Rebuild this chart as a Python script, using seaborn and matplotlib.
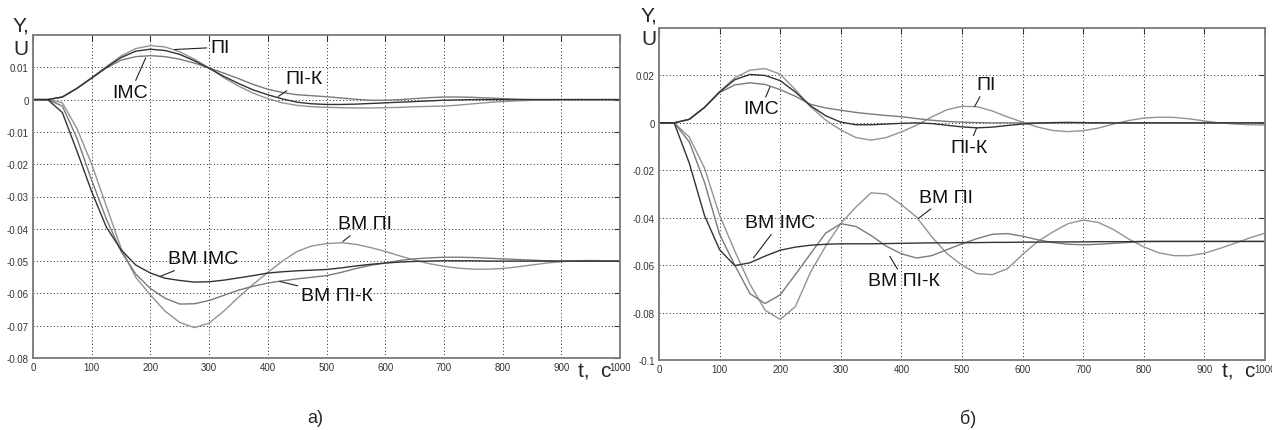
import pandas as pd
import seaborn as sns
import matplotlib.pyplot as plt

# time grid, s
t = [0, 25, 50, 75, 100, 125, 150, 175, 200, 225, 250, 275, 300, 325, 350, 375, 400,
     425, 450, 475, 500, 525, 550, 575, 600, 625, 650, 675, 700, 725, 750, 775, 800,
     825, 850, 875, 900, 925, 950, 975, 1000]

# panel a) control signals U
a_u_pi = [0, 0, 0.0008, 0.0035, 0.0068, 0.0102, 0.0135, 0.0158, 0.0167, 0.0163, 0.0148,
          0.0125, 0.0098, 0.0068, 0.0042, 0.0020, 0.0003, -0.0010, -0.0018, -0.0022,
          -0.0024, -0.0025, -0.0026, -0.0026, -0.0025, -0.0024, -0.0022, -0.0021, -0.0020,
          -0.0017, -0.0013, -0.0009, -0.0006, -0.0004, -0.0002, -0.0001, 0, 0, 0, 0, 0]
a_u_pik = [0, 0, 0.0008, 0.0035, 0.0067, 0.0100, 0.0130, 0.0150, 0.0156, 0.0152, 0.0140,
           0.0120, 0.0097, 0.0072, 0.0050, 0.0030, 0.0015, 0.0002, -0.0008, -0.0013,
           -0.0015, -0.0015, -0.0014, -0.0012, -0.0010, -0.0008, -0.0006, -0.0004, -0.0002,
           -0.0001, 0, 0, 0, 0, 0, 0, 0, 0, 0, 0, 0]
a_u_imc = [0, 0, 0.0008, 0.0035, 0.0066, 0.0098, 0.0122, 0.0133, 0.0136, 0.0133, 0.0125,
           0.0113, 0.0098, 0.0082, 0.0065, 0.0047, 0.0032, 0.0022, 0.0015, 0.0012, 0.0009,
           0.0005, 0.0001, -0.0002, -0.0002, 0.0000, 0.0003, 0.0006, 0.0008, 0.0008, 0.0007,
           0.0005, 0.0003, 0.0001, 0, 0, 0, 0, 0, 0, 0]

# panel a) outputs Y (BM)
a_y_pi = [0, 0, -0.001, -0.009, -0.020, -0.033, -0.046, -0.055, -0.0605, -0.0655, -0.0690,
          -0.0706, -0.0692, -0.0655, -0.0612, -0.0572, -0.0535, -0.0500, -0.0470, -0.0453,
          -0.0446, -0.0443, -0.0448, -0.0458, -0.0470, -0.0484, -0.0497, -0.0508, -0.0516,
          -0.0522, -0.0525, -0.0525, -0.0523, -0.0518, -0.0512, -0.0506, -0.0502, -0.0499,
          -0.0498, -0.0499, -0.0500]
a_y_pik = [0, 0, -0.002, -0.012, -0.025, -0.037, -0.047, -0.054, -0.0585, -0.0615, -0.0633,
           -0.0632, -0.0622, -0.0606, -0.0590, -0.0578, -0.0568, -0.0561, -0.0555, -0.0550,
           -0.0545, -0.0535, -0.0523, -0.0513, -0.0506, -0.0498, -0.0493, -0.0490, -0.0488,
           -0.0488, -0.0489, -0.0491, -0.0493, -0.0495, -0.0497, -0.0499, -0.0500, -0.0500,
           -0.0500, -0.0500, -0.0500]
a_y_imc = [0, 0, -0.004, -0.016, -0.0285, -0.0395, -0.0465, -0.0512, -0.0537, -0.0553,
           -0.0560, -0.0565, -0.0564, -0.0559, -0.0552, -0.0545, -0.0537, -0.0533, -0.0530,
           -0.0528, -0.0526, -0.0521, -0.0515, -0.0510, -0.0506, -0.0503, -0.0501, -0.0500,
           -0.0499, -0.0499, -0.0499, -0.0500, -0.0500, -0.0500, -0.0500, -0.0500, -0.0500,
           -0.0500, -0.0500, -0.0500, -0.0500]

# panel б) control signals U
b_u_pi = [0, 0, 0.0015, 0.0065, 0.0132, 0.0190, 0.0222, 0.0229, 0.0205, 0.0140, 0.0068,
          0.0012, -0.0030, -0.0062, -0.0073, -0.0062, -0.0038, -0.0010, 0.0025, 0.0055,
          0.0070, 0.0068, 0.0050, 0.0025, 0.0003, -0.0018, -0.0032, -0.0037, -0.0033,
          -0.0022, -0.0005, 0.0010, 0.0020, 0.0024, 0.0023, 0.0017, 0.0008, 0.0000,
          -0.0005, -0.0008, -0.0009]
b_u_pik = [0, 0, 0.0015, 0.0065, 0.0130, 0.0182, 0.0204, 0.0200, 0.0178, 0.0130, 0.0072,
           0.0030, 0.0003, -0.0008, -0.0008, -0.0005, -0.0002, 0.0000, -0.0003, -0.0010,
           -0.0017, -0.0021, -0.0018, -0.0011, -0.0005, -0.0001, 0.0001, 0.0002, 0.0001,
           0, 0, 0, 0, 0, 0, 0, 0, 0, 0, 0, 0]
b_u_imc = [0, 0, 0.0015, 0.0065, 0.0128, 0.0160, 0.0169, 0.0162, 0.0140, 0.0112, 0.0078,
           0.0063, 0.0053, 0.0044, 0.0037, 0.0031, 0.0026, 0.0018, 0.0011, 0.0006, 0.0003,
           0.0001, 0, 0, 0, 0, 0, 0, 0, 0, 0, 0, 0, 0, 0, 0, 0, 0, 0, 0, 0]

# panel б) outputs Y (BM)
b_y_pi = [0, 0, -0.006, -0.019, -0.039, -0.054, -0.068, -0.0790, -0.0829, -0.0775, -0.0630,
          -0.0520, -0.0424, -0.0355, -0.0295, -0.0300, -0.0345, -0.0397, -0.0480, -0.0551,
          -0.0600, -0.0636, -0.0640, -0.0615, -0.0555, -0.0500, -0.0460, -0.0425, -0.0410,
          -0.0420, -0.0450, -0.0490, -0.0523, -0.0548, -0.0560, -0.0560, -0.0550, -0.0530,
          -0.0508, -0.0485, -0.0465]
b_y_pik = [0, 0, -0.008, -0.025, -0.047, -0.060, -0.0720, -0.0762, -0.0725, -0.0640, -0.0552,
           -0.0465, -0.0425, -0.0437, -0.0475, -0.0520, -0.0552, -0.0570, -0.0560, -0.0535,
           -0.0510, -0.0488, -0.0470, -0.0467, -0.0478, -0.0493, -0.0505, -0.0512, -0.0514,
           -0.0512, -0.0508, -0.0504, -0.0501, -0.0500, -0.0500, -0.0500, -0.0500, -0.0500,
           -0.0500, -0.0500, -0.0500]
b_y_imc = [0, 0, -0.017, -0.039, -0.0535, -0.0602, -0.0590, -0.0562, -0.0537, -0.0524,
           -0.0516, -0.0512, -0.0510, -0.0510, -0.0510, -0.0509, -0.0508, -0.0507, -0.0506,
           -0.0506, -0.0505, -0.0505, -0.0504, -0.0504, -0.0503, -0.0503, -0.0502, -0.0502,
           -0.0502, -0.0501, -0.0501, -0.0501, -0.0500, -0.0500, -0.0500, -0.0500, -0.0500,
           -0.0500, -0.0500, -0.0500, -0.0500]

x_ticks = [0, 100, 200, 300, 400, 500, 600, 700, 800, 900, 1000]
a_yticks = [-0.08, -0.07, -0.06, -0.05, -0.04, -0.03, -0.02, -0.01, 0, 0.01]
a_ylabels = ['-0.08', '-0.07', '-0.06', '-0.05', '-0.04', '-0.03', '-0.02', '-0.01', '0', '0.01']
b_yticks = [-0.1, -0.08, -0.06, -0.04, -0.02, 0, 0.02]
b_ylabels = ['-0.1', '-0.08', '-0.06', '-0.04', '-0.02', '0', '0.02']

# curve labels: (text, text x, text y, pointer x, pointer y)
a_notes = [("ПІ", 318, 0.0162, 241, 0.0155),
           ("IMC", 166, 0.0023, 192, 0.0129),
           ("ПІ-К", 462, 0.0064, 418, 0.0010),
           ("ВМ IMC", 290, -0.0493, 216, -0.0548),
           ("ВМ ПІ-К", 518, -0.0606, 420, -0.0563),
           ("ВМ ПІ", 566, -0.0385, 528, -0.0439)]
b_notes = [("IMC", 168, 0.0059, 183, 0.0151),
           ("ПІ", 540, 0.0160, 521, 0.0069),
           ("ПІ-К", 511, -0.0104, 524, -0.0022),
           ("ВМ IMC", 200, -0.0421, 156, -0.0569),
           ("ВМ ПІ-К", 405, -0.0666, 381, -0.0563),
           ("ВМ ПІ", 474, -0.0313, 428, -0.0403)]

sns.set_style("white")
plt.rcParams['font.family'] = ['Liberation Sans', 'DejaVu Sans']

palette = {'U ПІ': '#939393', 'U IMC': '#7a7a7a', 'U ПІ-К': '#333333',
           'Y ПІ': '#939393', 'Y ПІ-К': '#7a7a7a', 'Y IMC': '#333333'}
order = ['U ПІ', 'U IMC', 'Y ПІ', 'Y ПІ-К', 'U ПІ-К', 'Y IMC']


def long_df(curves):
    frames = [pd.DataFrame({'t': t, 'v': vals, 'curve': name}) for name, vals in curves.items()]
    return pd.concat(frames, ignore_index=True)


def draw_panel(ax, df, ylim, yticks, ylabels, notes):
    sns.lineplot(data=df, x='t', y='v', hue='curve', hue_order=order, palette=palette,
                 linewidth=1.0, legend=False, ax=ax)
    ax.set_xlim(0, 1000)
    ax.set_ylim(*ylim)
    ax.set_xticks(x_ticks)
    ax.set_xticklabels([str(v) for v in x_ticks])
    ax.set_yticks(yticks)
    ax.set_yticklabels(ylabels)
    ax.set_xlabel("")
    ax.set_ylabel("")
    ax.grid(True, color='#222222', linestyle=(0, (1, 2.5)), linewidth=0.7)
    ax.tick_params(direction='in', length=4, width=0.8, top=True, right=True,
                   labelsize=7, labelcolor='#333333', color='#333333', pad=3)
    for sp in ax.spines.values():
        sp.set_color('#7a7a7a')
        sp.set_linewidth(1.3)
    for txt, tx, ty, px, py in notes:
        ax.annotate(txt, xy=(px, py), xytext=(tx, ty), ha='center', va='center',
                    fontsize=14, color='#111111',
                    arrowprops=dict(arrowstyle='-', color='#222222', lw=0.8,
                                    shrinkA=0, shrinkB=0))


df_a = long_df({'U ПІ': a_u_pi, 'U ПІ-К': a_u_pik, 'U IMC': a_u_imc,
                'Y ПІ': a_y_pi, 'Y ПІ-К': a_y_pik, 'Y IMC': a_y_imc})
df_b = long_df({'U ПІ': b_u_pi, 'U ПІ-К': b_u_pik, 'U IMC': b_u_imc,
                'Y ПІ': b_y_pi, 'Y ПІ-К': b_y_pik, 'Y IMC': b_y_imc})

fig = plt.figure(figsize=(12.72, 4.31), dpi=100)
ax_a = fig.add_axes([33 / 1272, 1 - 359 / 431, 587 / 1272, 323 / 431])
ax_b = fig.add_axes([659 / 1272, 1 - 361 / 431, 606 / 1272, 332 / 431])

draw_panel(ax_a, df_a, (-0.08, 0.02), a_yticks, a_ylabels, a_notes)
draw_panel(ax_b, df_b, (-0.1, 0.04), b_yticks, b_ylabels, b_notes)

# axis captions (Y, U stacked above each y axis)
for px, top in [(13, 16), (641, 6)]:
    fig.text(px / 1272, 1 - top / 431, "Y,", ha='left', va='top', fontsize=15)
    fig.text(px / 1272, 1 - (top + 24) / 431, "U", ha='left', va='top', fontsize=15)
fig.text(578 / 1272, 1 - 372 / 431, "t,  c", ha='left', va='center', fontsize=15)
fig.text(1222 / 1272, 1 - 372 / 431, "t,  c", ha='left', va='center', fontsize=15)
fig.text(315 / 1272, 1 - 419 / 431, "а)", ha='center', va='center', fontsize=13)
fig.text(968 / 1272, 1 - 419 / 431, "б)", ha='center', va='center', fontsize=13)

fig.savefig("out.png", dpi=100)
